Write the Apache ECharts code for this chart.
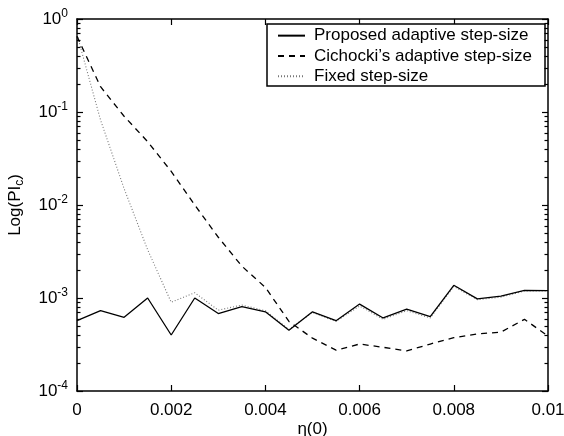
<html>
<head>
    <script src="https://cdn.jsdelivr.net/npm/echarts@6/dist/echarts.min.js"></script>
</head>
<body style="margin:0;background:#fff;">
    <div id="main" style="width: 564px;height:436px;"></div>
    <script>
        // eta(0) values along x
        var eta = [0, 0.0005, 0.001, 0.0015, 0.002, 0.0025, 0.003, 0.0035, 0.004, 0.0045, 0.005,
            0.0055, 0.006, 0.0065, 0.007, 0.0075, 0.008, 0.0085, 0.009, 0.0095, 0.01];
        var proposed = [5.7e-4, 7.3e-4, 6.2e-4, 1.0e-3, 4.0e-4, 1.0e-3, 6.8e-4, 8.1e-4, 7.1e-4, 4.5e-4, 7.1e-4,
            5.7e-4, 8.6e-4, 6.1e-4, 7.6e-4, 6.3e-4, 1.37e-3, 9.8e-4, 1.05e-3, 1.21e-3, 1.2e-3];
        var cichocki = [0.65, 0.187, 0.09, 0.048, 0.023, 0.01, 4.5e-3, 2.2e-3, 1.3e-3, 5.6e-4, 3.7e-4,
            2.75e-4, 3.2e-4, 2.95e-4, 2.7e-4, 3.2e-4, 3.75e-4, 4.1e-4, 4.3e-4, 5.9e-4, 3.9e-4];
        var fixed = [0.68, 0.082, 0.015, 3.3e-3, 9e-4, 1.14e-3, 7.4e-4, 8.4e-4, 7.3e-4, 4.6e-4, 7.0e-4,
            5.6e-4, 8.2e-4, 5.9e-4, 7.3e-4, 6.1e-4, 1.33e-3, 9.6e-4, 1.02e-3, 1.19e-3, 1.19e-3];
        var seriesNames = ['Proposed adaptive step-size', "Cichocki\u2019s adaptive step-size", 'Fixed step-size'];
        // minor ticks of the log axis: 2..9 in each decade
        var minorTicks = [];
        [1e-4, 1e-3, 1e-2, 1e-1].forEach(function (d) {
            for (var k = 2; k <= 9; k++) minorTicks.push(d * k);
        });

        function pairs(ys) {
            return eta.map(function (x, i) { return [x, ys[i]]; });
        }

        var font = "'Liberation Sans', Arial, sans-serif";
        var myChart = echarts.init(document.getElementById('main'));

        var tick = { show: true, inside: true, length: 6, lineStyle: { color: '#000', width: 1.2 } };
        var line = { show: true, onZero: false, lineStyle: { color: '#000', width: 1.5 } };

        var option = {
            animation: false,
            backgroundColor: '#fff',
            grid: { left: 77, right: 16, top: 19, bottom: 45, outerBoundsMode: 'none', containLabel: false },
            graphic: [{
                id: 'legendBox',
                type: 'rect',
                shape: { x: 267, y: 24, width: 278, height: 62 },
                style: { fill: '#fff', stroke: '#000', lineWidth: 1.5 },
                z: 3
            }],
            legend: {
                orient: 'vertical',
                left: 267,
                top: 21,
                padding: [0, 0, 0, 10],
                itemGap: -9,
                itemWidth: 27,
                itemHeight: 8,
                borderWidth: 0,
                z: 4,
                itemStyle: { opacity: 0 },
                textStyle: { fontFamily: font, fontSize: 17, lineHeight: 16, color: '#000', padding: [0, 0, 0, 4] },
                data: seriesNames
            },
            xAxis: [{
                type: 'value',
                min: 0,
                max: 0.01,
                interval: 0.002,
                name: '\u03b7(0)',
                nameLocation: 'middle',
                nameGap: 24,
                nameMoveOverlap: false,
                nameTextStyle: { fontFamily: font, fontSize: 17, color: '#000' },
                axisLine: line,
                axisTick: tick,
                axisLabel: {
                    fontFamily: font, fontSize: 17, color: '#000', margin: 5,
                    formatter: function (v) { return v === 0 ? '0' : String(+v.toFixed(3)); }
                },
                splitLine: { show: false }
            }, {
                type: 'value',
                position: 'top',
                min: 0,
                max: 0.01,
                interval: 0.002,
                axisLine: line,
                axisTick: tick,
                axisLabel: { show: false },
                splitLine: { show: false }
            }],
            yAxis: [{
                type: 'log',
                min: 1e-4,
                max: 1,
                logBase: 10,
                name: 'Log(PI{sub|c})',
                nameLocation: 'middle',
                nameGap: 47,
                nameMoveOverlap: false,
                nameTextStyle: {
                    fontFamily: font, fontSize: 17, color: '#000',
                    rich: { sub: { fontFamily: font, fontSize: 12, color: '#000', verticalAlign: 'bottom', padding: [8, 0, 0, 0] } }
                },
                axisLine: line,
                axisTick: tick,
                axisLabel: {
                    fontFamily: font, fontSize: 17, color: '#000', margin: 9,
                    formatter: function (v) {
                        return '10{sup|' + Math.round(Math.log10(v)) + '}';
                    },
                    rich: { sup: { fontFamily: font, fontSize: 12, color: '#000', verticalAlign: 'top', padding: [0, 0, 10, 0] } }
                },
                splitLine: { show: false }
            }, {
                type: 'log',
                min: 1e-4,
                max: 1,
                logBase: 10,
                position: 'right',
                axisLine: line,
                axisTick: tick,
                axisLabel: { show: false },
                splitLine: { show: false }
            }],
            series: [{
                name: seriesNames[0],
                type: 'line',
                data: pairs(proposed),
                symbol: 'none',
                lineStyle: { color: '#000', width: 1.3, type: 'solid' },
                itemStyle: { color: '#000' },
                z: 4
            }, {
                name: seriesNames[1],
                type: 'line',
                data: pairs(cichocki),
                symbol: 'none',
                lineStyle: { color: '#000', width: 1.3, type: [6, 5] },
                itemStyle: { color: '#000' },
                z: 3
            }, {
                name: seriesNames[2],
                type: 'line',
                data: pairs(fixed),
                symbol: 'none',
                lineStyle: { color: '#777', width: 1.1, type: [1, 2] },
                itemStyle: { color: '#777' },
                z: 2
            }]
        };

        myChart.setOption(option);

        // minor ticks (2..9 per decade) on both y axes, placed through the axis scale
        var xl = myChart.convertToPixel({ xAxisIndex: 0 }, 0);
        var xr = myChart.convertToPixel({ xAxisIndex: 0 }, 0.01);
        var tickGraphics = [];
        minorTicks.forEach(function (v, i) {
            var y = Math.round(myChart.convertToPixel({ yAxisIndex: 0 }, v)) + 0.5;
            tickGraphics.push({
                id: 'ml' + i, type: 'rect', z: 10,
                shape: { x: xl, y: y - 0.6, width: 3.5, height: 1.2 },
                style: { fill: '#000' }
            }, {
                id: 'mr' + i, type: 'rect', z: 10,
                shape: { x: xr - 3.5, y: y - 0.6, width: 3.5, height: 1.2 },
                style: { fill: '#000' }
            });
        });
        myChart.setOption({ graphic: tickGraphics });
    </script>
</body>
</html>
